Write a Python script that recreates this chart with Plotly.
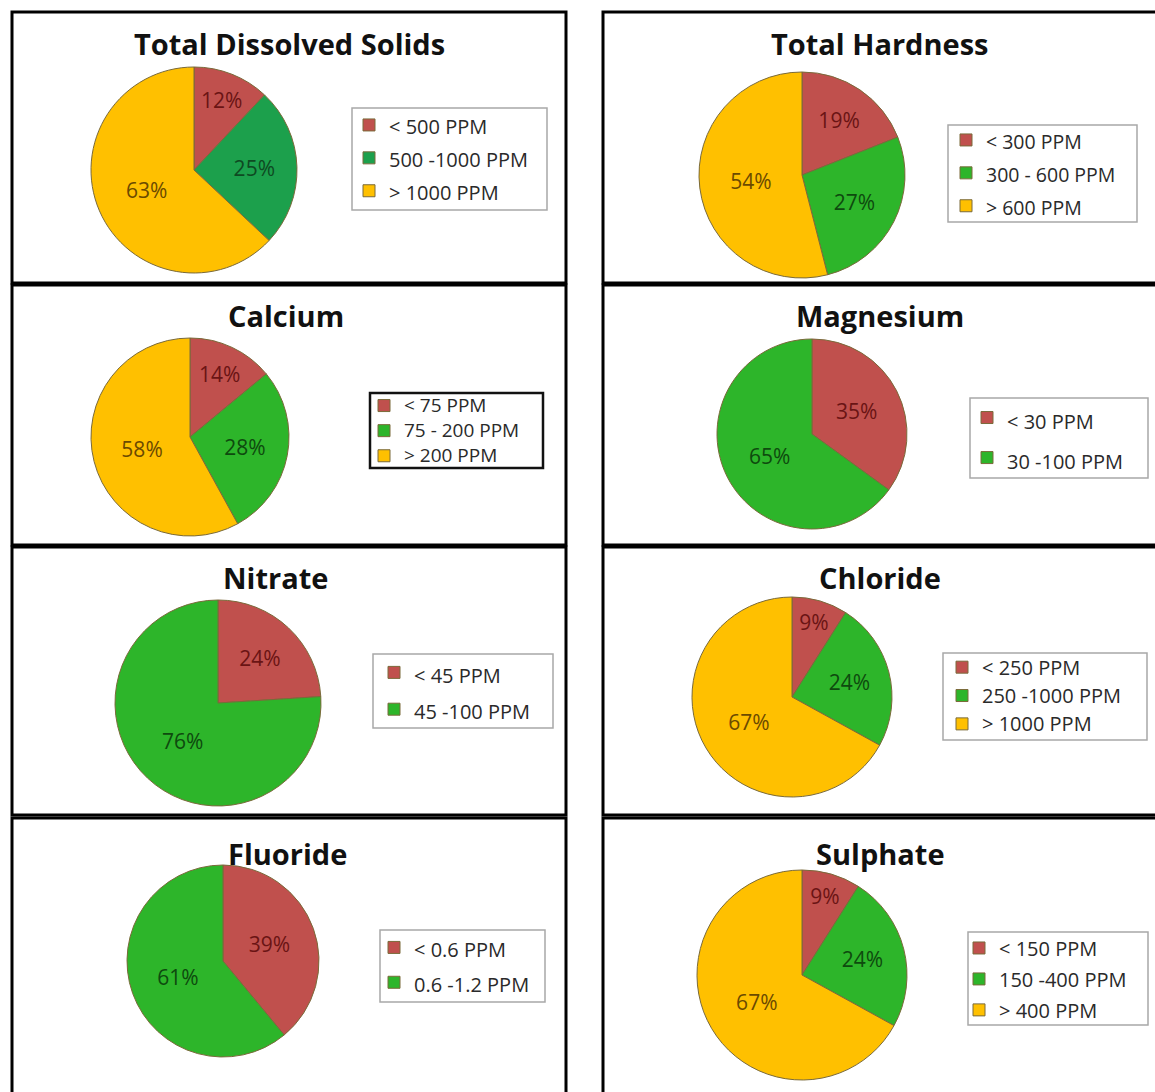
import plotly.graph_objects as go

W, H = 1155, 1092

# ---- data ----
titles = ["Total Dissolved Solids", "Total Hardness", "Calcium", "Magnesium",
          "Nitrate", "Chloride", "Fluoride", "Sulphate"]

tds_labels = ["< 500 PPM", "500 -1000 PPM", "> 1000 PPM"]
tds_values = [12, 25, 63]
th_labels = ["< 300 PPM", "300 - 600 PPM", "> 600 PPM"]
th_values = [19, 27, 54]
ca_labels = ["< 75 PPM", "75 - 200 PPM", "> 200 PPM"]
ca_values = [14, 28, 58]
mg_labels = ["< 30 PPM", "30 -100 PPM"]
mg_values = [35, 65]
no3_labels = ["< 45 PPM", "45 -100 PPM"]
no3_values = [24, 76]
cl_labels = ["< 250 PPM", "250 -1000 PPM", "> 1000 PPM"]
cl_values = [9, 24, 67]
f_labels = ["< 0.6 PPM", "0.6 -1.2 PPM"]
f_values = [39, 61]
so4_labels = ["< 150 PPM", "150 -400 PPM", "> 400 PPM"]
so4_values = [9, 24, 67]

all_labels = [tds_labels, th_labels, ca_labels, mg_labels, no3_labels, cl_labels, f_labels, so4_labels]
all_values = [tds_values, th_values, ca_values, mg_values, no3_values, cl_values, f_values, so4_values]

RED, GREEN, YELLOW = "#C0504D", "#2DB52A", "#FFC000"
GREEN_TDS = "#1CA04C"
TXT = {RED: "#6A1414", GREEN: "#0E4A0E", GREEN_TDS: "#0E4A22", YELLOW: "#6B4A00"}

FONT = "Open Sans"

# ---- layout geometry (pixels) ----
# pie: center x, center y, diameter
pies = [(194, 170, 206), (802, 175, 206), (190, 437, 198), (812, 434, 190),
        (218, 703, 206), (792, 697, 200), (223, 961, 192), (802, 975, 210)]
# title centers
title_pos = [(289, 44), (880, 44), (286, 315), (880, 315),
             (275, 577), (880, 577), (287, 853), (880, 853)]
# legend boxes: x0, y0, x1, y1
legend_box = [(352, 108, 547, 210), (948, 125, 1137, 222), (370, 393, 543, 468),
              (970, 398, 1148, 478), (373, 654, 553, 728), (943, 653, 1147, 740),
              (380, 930, 545, 1002), (968, 932, 1148, 1025)]
# legend marker left edge and vertical centre of the items
legend_marker_x = [365, 962, 380, 983, 390, 958, 390, 975]
legend_mid_y = [158, 173, 431, 438, 691, 696, 965, 979]
# legend row height control (font size that sets row spacing)
legend_row_font = [23, 23, 17, 28.5, 26, 19.5, 24.5, 21.5]
legend_text_size = [20, 19.5, 19, 20, 20, 20, 20, 20]

# panel borders
panels = [(12, 12, 566, 283), (603, 12, 1160, 283),
          (12, 285, 566, 545), (603, 285, 1160, 545),
          (12, 547, 566, 815), (603, 547, 1160, 815),
          (12, 818, 566, 1100), (603, 818, 1160, 1100)]

def px(x):
    return x / W

def py(y):
    return 1 - y / H

fig = go.Figure()
layout_extra = {}
shapes = []
annotations = []

for i, (labels, values) in enumerate(zip(all_labels, all_values)):
    cols = [RED, GREEN_TDS if i == 0 else GREEN, YELLOW][:len(values)]
    cx, cy, d = pies[i]
    r = d / 2
    lname = "legend" if i == 0 else f"legend{i + 1}"
    # whitespace in the style string keeps each chart's legend keys distinct
    shown = [f'<span style="font-size:{legend_text_size[i]}px{" " * i}">'
             + l.replace("<", "&lt;").replace(">", "&gt;") + "</span>"
             for l in labels]
    fig.add_trace(go.Pie(
        labels=shown, values=values, sort=False, direction="clockwise", rotation=0,
        marker=dict(colors=cols, line=dict(color="#7A6A3A", width=1)),
        texttemplate="%{value}%", textposition="inside",
        insidetextorientation="horizontal",
        textfont=dict(family=FONT, size=21, color=[TXT[c] for c in cols]),
        domain=dict(x=[px(cx - r), px(cx + r)], y=[py(cy + r), py(cy - r)]),
        legend=lname, showlegend=True, hoverinfo="label+percent",
    ))
    x0, y0, x1, y1 = legend_box[i]
    shapes.append(dict(type="rect", xref="paper", yref="paper",
                       x0=px(x0), x1=px(x1), y0=py(y1), y1=py(y0),
                       line=dict(color="#111111" if i == 2 else "#A8A8A8",
                                 width=2.5 if i == 2 else 1.5),
                       fillcolor="rgba(0,0,0,0)", layer="above"))
    layout_extra[lname] = dict(
        x=px(legend_marker_x[i] - 16), y=py(legend_mid_y[i]),
        xanchor="left", yanchor="middle",
        bgcolor="rgba(0,0,0,0)", borderwidth=0,
        font=dict(family=FONT, size=legend_row_font[i], color="#2A2A2A"),
        tracegroupgap=0,
    )
    tx, ty = title_pos[i]
    annotations.append(dict(text=f"<b>{titles[i]}</b>", x=px(tx), y=py(ty),
                            xref="paper", yref="paper", showarrow=False,
                            xanchor="center", yanchor="middle",
                            font=dict(family=FONT, size=29, color="#111111")))

for (x0, y0, x1, y1) in panels:
    shapes.append(dict(type="rect", xref="paper", yref="paper",
                       x0=px(x0), x1=px(x1), y0=py(y1), y1=py(y0),
                       line=dict(color="#000000", width=3), layer="above"))

fig.update_layout(
    width=W, height=H, margin=dict(l=0, r=0, t=0, b=0),
    paper_bgcolor="white", plot_bgcolor="white",
    shapes=shapes, annotations=annotations, **layout_extra,
)

fig.write_html("out.html")
